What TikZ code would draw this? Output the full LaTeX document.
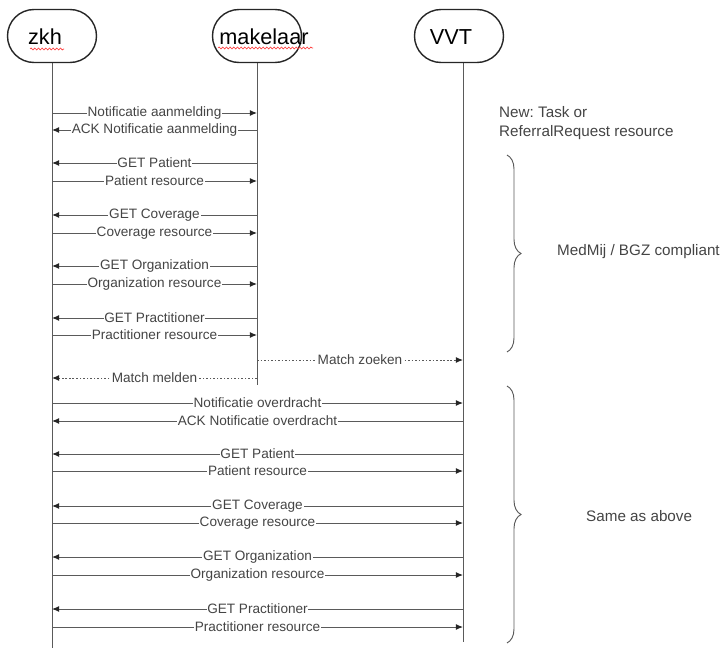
\documentclass[tikz,border=0pt]{standalone}
\usepackage{fontspec}
\setmainfont{Liberation Sans}
\frenchspacing
\usetikzlibrary{arrows.meta,shapes.misc,decorations.pathreplacing,decorations.pathmorphing}
\definecolor{linegray}{HTML}{5A5A5A}
\definecolor{textgray}{HTML}{444444}
\tikzset{
  actor/.style={draw=black!85, line width=1.2pt, rounded rectangle, fill=white,
    minimum width=2.67cm, minimum height=1.59cm, inner sep=0pt},
  actorlbl/.style={inner sep=0pt, font=\fontsize{18.5}{20}\selectfont},
  life/.style={draw=linegray, line width=0.8pt},
  msg/.style={draw=linegray, line width=0.8pt, -{Latex[length=6pt,width=5pt,color=black!85]}},
  msgdot/.style={msg, dash pattern=on 1.5pt off 1.5pt},
  lbl/.style={fill=white, text=textgray, inner sep=0.6pt, font=\fontsize{11.6}{13}\selectfont},
  note/.style={text=textgray, align=left, inner sep=0pt, font=\fontsize{13}{16.2}\selectfont},
  curly/.style={draw=linegray, line width=0.8pt, decorate, decoration={brace, amplitude=0.42cm}},
  typo/.style={draw=red!80, line width=0.5pt, decorate, decoration={snake, segment length=0.11cm, amplitude=0.03cm}}
}
\begin{document}
\begin{tikzpicture}[x=0.03cm, y=-0.03cm]
                \useasboundingbox (0,0) rectangle (723,648);
                \coordinate (zkhend) at (52,648);
                \coordinate (makend) at (257,385);
                \coordinate (vvtend) at (463,642);
                \draw[life] (52,36) -- (zkhend);
                \draw[life] (257,36) -- (makend);
                \draw[life] (463,36) -- (vvtend);
                \node[actor] (zkh) at (52,36) {};
                \node[actor] (mak) at (257,36) {};
                \node[actor] (vvt) at (459,36) {};
                \node[actorlbl] (zkhtxt) at (45,37) {zkh};
                \node[actorlbl] (maktxt) at (264,37) {makelaar};
                \node[actorlbl] (vvttxt) at (451,37) {VVT};
                \draw[typo] (30,49) -- (64,49);
                \draw[typo] (218,48) -- (313,48);
                \foreach \y/\a/\b/\txt in {113/zkh/mak/Notificatie aanmelding,
                    130/mak/zkh/ACK Notificatie aanmelding,
                    163/mak/zkh/GET Patient, 181/zkh/mak/Patient resource,
                    215/mak/zkh/GET Coverage, 233/zkh/mak/Coverage resource,
                    266/mak/zkh/GET Organization, 284/zkh/mak/Organization resource,
                    318/mak/zkh/GET Practitioner, 335/zkh/mak/Practitioner resource}
                \draw[msg] (\a |- 0,\y) -- node[lbl]{\txt} (\b |- 0,\y);
                \draw[msgdot] (mak |- 0,360) -- node[lbl]{Match zoeken} (vvtend |- 0,360);
                \draw[msgdot] (mak |- 0,378) -- node[lbl]{Match melden} (zkh |- 0,378);
                \foreach \y/\a/\b/\txt in {403/zkh/vvtend/Notificatie overdracht,
                    421/vvtend/zkh/ACK Notificatie overdracht,
                    454/vvtend/zkh/GET Patient, 471/zkh/vvtend/Patient resource,
                    506/vvtend/zkh/GET Coverage, 523/zkh/vvtend/Coverage resource,
                    557/vvtend/zkh/GET Organization, 575/zkh/vvtend/Organization resource,
                    609/vvtend/zkh/GET Practitioner, 627/zkh/vvtend/Practitioner resource}
                \draw[msg] (\a |- 0,\y) -- node[lbl]{\txt} (\b |- 0,\y);
                \node[note, anchor=west] (newres) at (499,123) {New: Task or\\ReferralRequest resource};
                \draw[curly] (507,155) -- (507,352);
                \draw[curly] (507,386) -- (507,643);
                \node[note, anchor=west] (medmij) at (557,252) {MedMij / BGZ compliant};
                \node[note, anchor=west] (same) at (586,516) {Same as above};
            \end{tikzpicture}
\end{document}
